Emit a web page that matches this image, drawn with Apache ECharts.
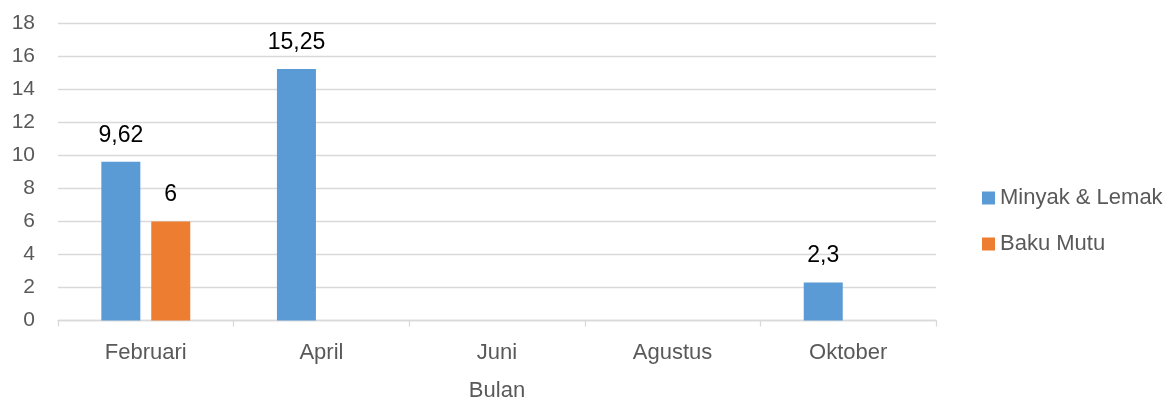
<!DOCTYPE html>
<html><head><meta charset="utf-8">
<script src="https://cdn.jsdelivr.net/npm/echarts@6/dist/echarts.min.js"></script>
<style>html,body{margin:0;padding:0;background:#fff}#c{width:1169px;height:403px}</style>
</head><body><div id="c"></div>
<script>
const categories = ['Februari', 'April', 'Juni', 'Agustus', 'Oktober'];
const minyakLemak = [9.62, 15.25, null, null, 2.3];
const bakuMutu = [6, null, null, null, null];
const yTicks = [0, 2, 4, 6, 8, 10, 12, 14, 16, 18];

const FONT = '"Liberation Sans", sans-serif';
const fmt = p => String(p.value).replace('.', ',');
const chart = echarts.init(document.getElementById('c'));
chart.setOption({
  animation: false,
  textStyle: { fontFamily: FONT },
  grid: { left: 58, right: 233, top: 23.5, bottom: 82.5, outerBoundsMode: 'none', containLabel: false },
  legend: {
    orient: 'vertical', left: 977, top: 182,
    itemWidth: 13, itemHeight: 13, itemGap: 24,
    icon: 'rect',
    textStyle: { color: '#595959', fontSize: 22, fontFamily: FONT }
  },
  xAxis: {
    type: 'category', data: categories,
    name: 'Bulan', nameLocation: 'middle', nameGap: 59,
    nameTextStyle: { color: '#595959', fontSize: 22, fontFamily: FONT },
    axisLine: { lineStyle: { color: '#d9d9d9', width: 1.3 } },
    axisTick: { show: true, length: 6, lineStyle: { color: '#d9d9d9', width: 1.3 } },
    axisLabel: { color: '#595959', fontSize: 22, margin: 21, fontFamily: FONT }
  },
  yAxis: {
    type: 'value', min: yTicks[0], max: yTicks[yTicks.length - 1], interval: 2,
    axisLine: { show: false }, axisTick: { show: false },
    axisLabel: { color: '#595959', fontSize: 21, margin: 23, fontFamily: FONT },
    splitLine: { lineStyle: { color: '#d9d9d9', width: 1.3 } }
  },
  series: [
    { name: 'Minyak & Lemak', type: 'bar', data: minyakLemak, barWidth: 39, barGap: '28%',
      itemStyle: { color: '#5b9bd5' },
      label: { show: true, position: 'top', distance: 15, color: '#000', fontSize: 23, formatter: fmt, fontFamily: FONT } },
    { name: 'Baku Mutu', type: 'bar', data: bakuMutu, barWidth: 39,
      itemStyle: { color: '#ed7d31' },
      label: { show: true, position: 'top', distance: 15, color: '#000', fontSize: 23, formatter: fmt, fontFamily: FONT } }
  ]
});
</script></body></html>
